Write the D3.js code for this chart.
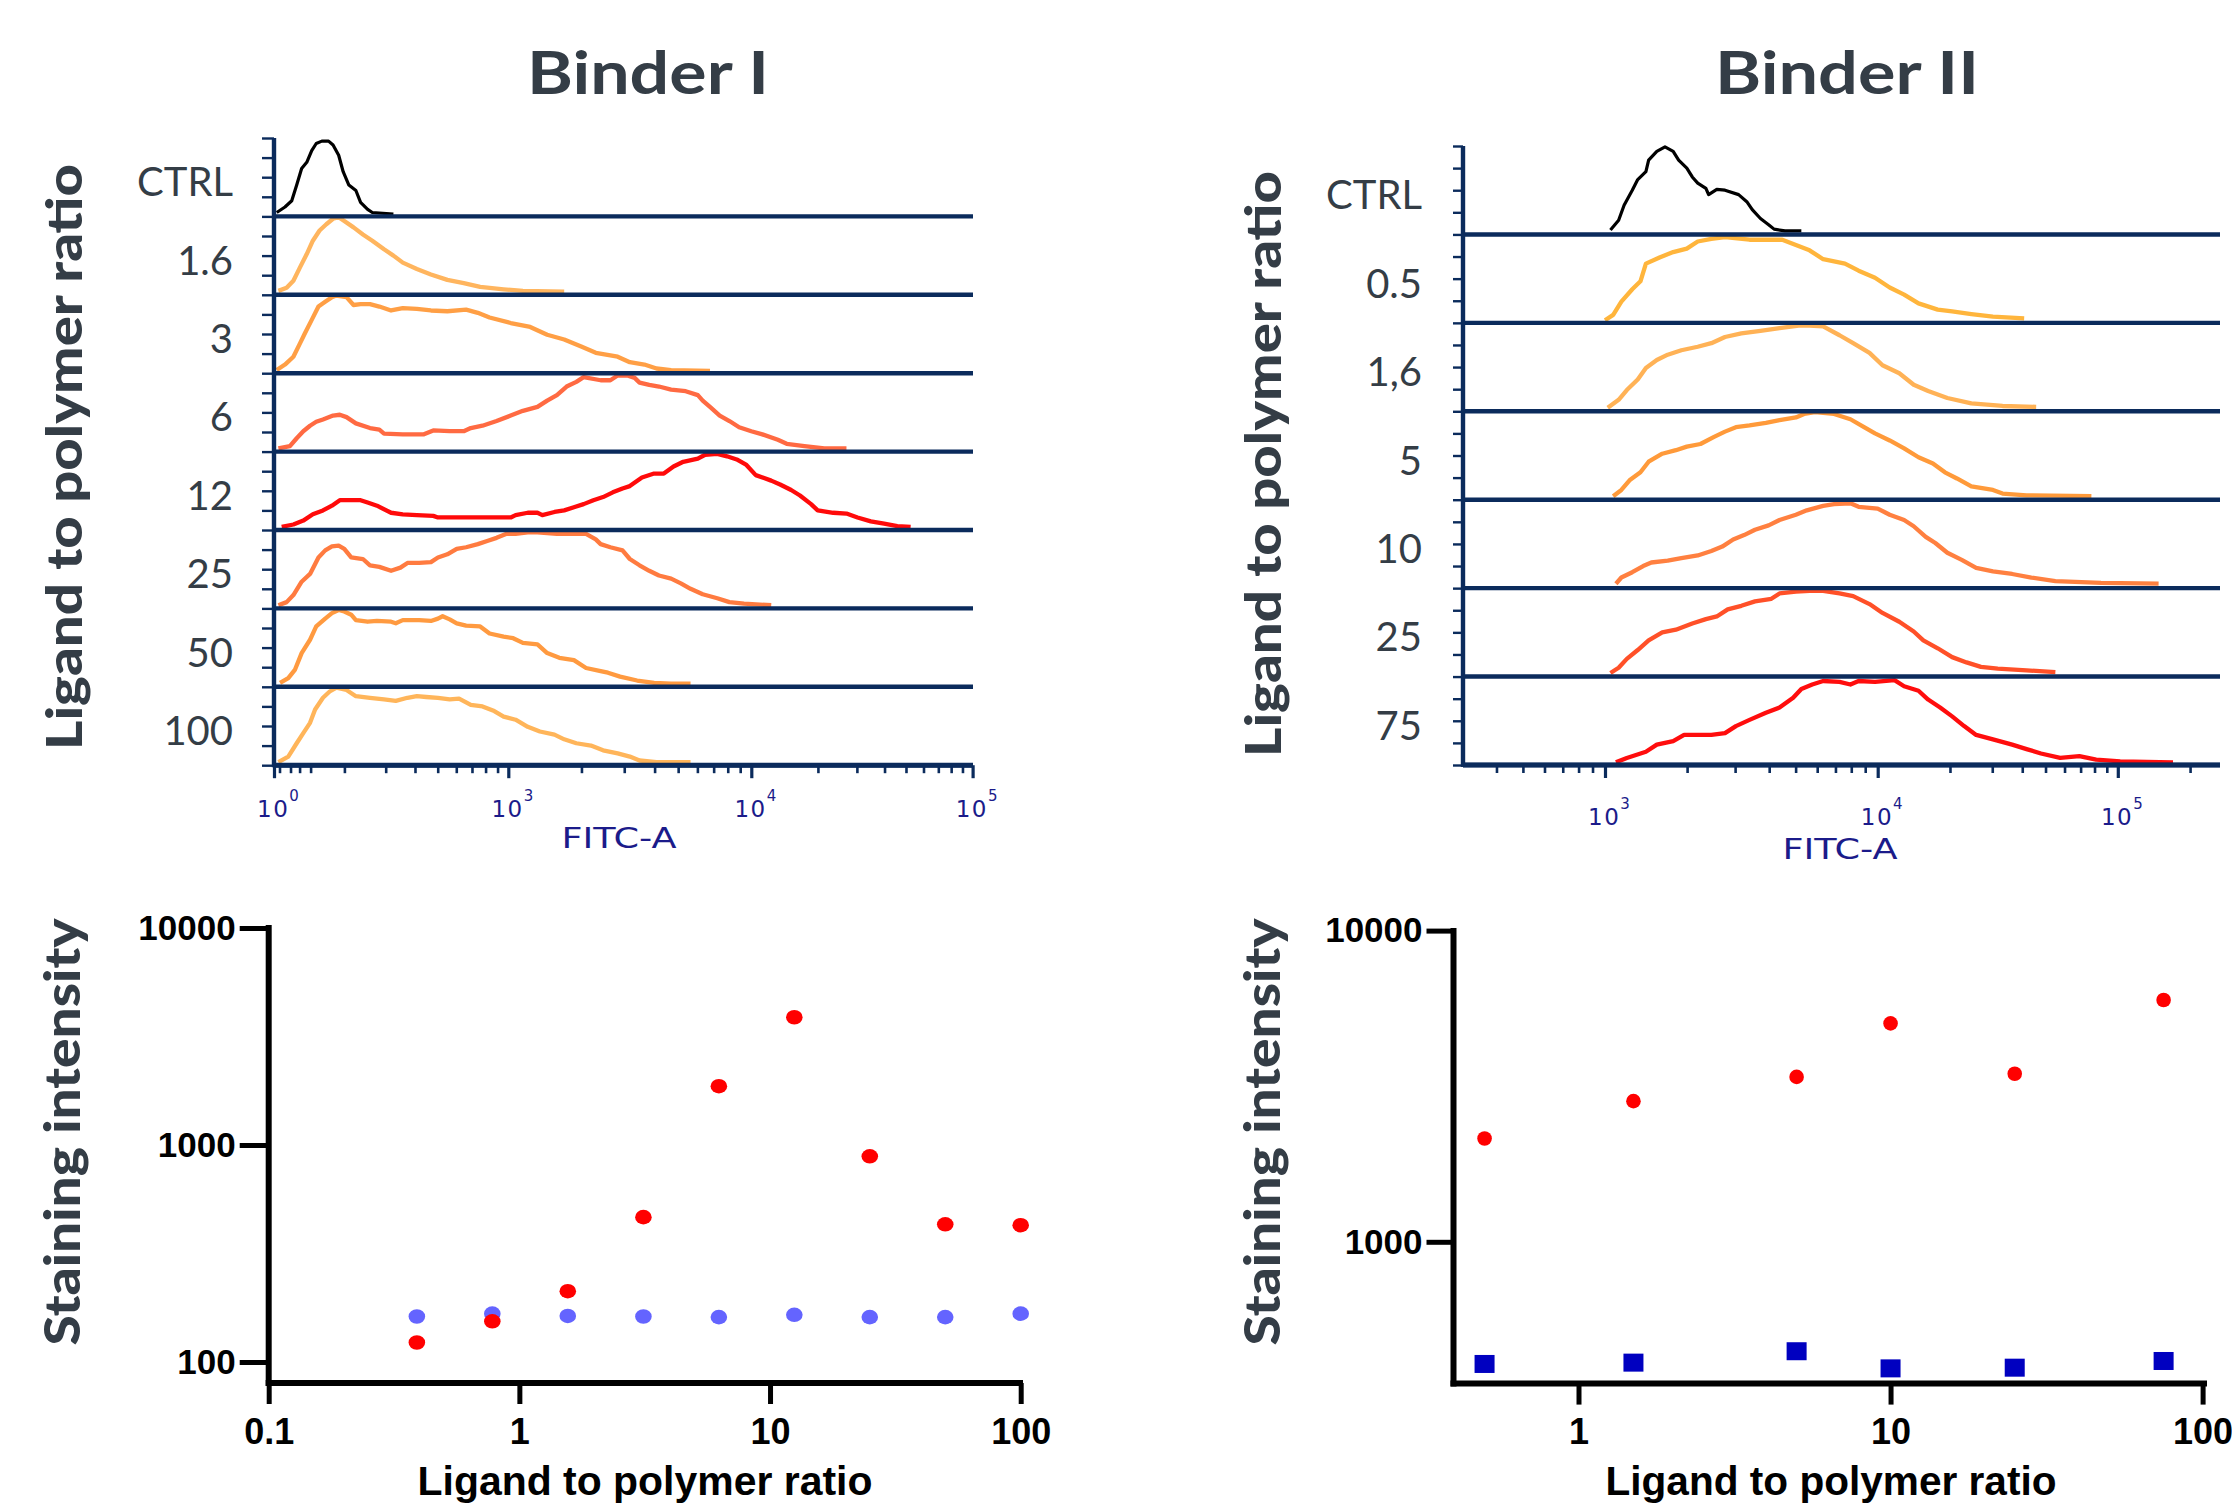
<!DOCTYPE html>
<html>
<head>
<meta charset="utf-8">
<script src="https://cdn.jsdelivr.net/npm/d3@7"></script>
<style>
  body { margin: 0; background: #fff; overflow: hidden; }
  svg { display: block; }
</style>
</head>
<body>
<svg id="fig" width="2232" height="1512"></svg>
<script>
// histogram rows, x = log10(FITC-A), y = % of row height
const b1Labels = ["CTRL", "1.6", "3", "6", "12", "25", "50", "100"]
const b2Labels = ["CTRL", "0.5", "1,6", "5", "10", "25", "75"]

const b1Ctrl = [[0.15,5],[0.60,12],[0.97,20],[1.24,40],[1.51,61],[1.79,69],[2.01,84],[2.05,93],[2.10,96],[2.16,96],[2.20,91],[2.25,78],[2.29,57],[2.32,40],[2.35,33],[2.37,18],[2.40,9],[2.42,5],[2.51,3]]
const b1R16 = [[0.24,5],[0.69,9],[1.06,18],[1.42,35],[1.79,52],[2.02,69],[2.08,82],[2.14,90],[2.20,97],[2.25,99],[2.29,95],[2.34,86],[2.38,77],[2.42,69],[2.47,58],[2.51,50],[2.55,41],[2.61,33],[2.67,26],[2.74,19],[2.81,15],[2.88,10],[2.98,7],[3.06,5],[3.23,4]]
const b1R3 = [[0.15,4],[0.60,11],[1.06,21],[1.42,38],[1.69,51],[2.01,68],[2.07,85],[2.13,91],[2.19,97],[2.23,99],[2.31,97],[2.34,87],[2.37,88],[2.41,88],[2.45,85],[2.50,80],[2.55,83],[2.61,82],[2.67,80],[2.74,79],[2.82,81],[2.87,77],[2.92,71],[3.01,64],[3.09,59],[3.16,49],[3.23,43],[3.30,34],[3.36,26],[3.45,21],[3.50,14],[3.56,11],[3.61,6],[3.67,4],[3.83,3]]
const b1R6 = [[0.24,4],[0.87,7],[1.24,17],[1.60,26],[1.97,33],[2.05,38],[2.11,41],[2.20,46],[2.26,47],[2.31,44],[2.35,36],[2.41,30],[2.45,28],[2.47,23],[2.55,22],[2.64,22],[2.68,27],[2.75,26],[2.81,26],[2.84,30],[2.89,33],[2.95,39],[3.01,46],[3.06,52],[3.12,57],[3.16,65],[3.20,72],[3.24,83],[3.28,89],[3.31,95],[3.38,91],[3.42,91],[3.45,97],[3.49,97],[3.52,94],[3.54,88],[3.58,85],[3.62,83],[3.67,79],[3.73,77],[3.78,72],[3.80,65],[3.83,57],[3.87,46],[3.91,39],[3.95,31],[4.00,26],[4.05,22],[4.12,15],[4.16,10],[4.24,7],[4.33,4],[4.43,4]]
const b1R12 = [[0.42,4],[1.06,7],[1.60,12],[2.02,20],[2.11,25],[2.19,31],[2.26,38],[2.33,38],[2.37,38],[2.40,35],[2.44,31],[2.50,22],[2.55,20],[2.61,19],[2.68,18],[2.70,16],[2.78,16],[2.89,16],[3.01,16],[3.03,19],[3.08,22],[3.12,22],[3.14,19],[3.19,23],[3.23,25],[3.27,29],[3.31,33],[3.35,38],[3.39,42],[3.43,48],[3.47,53],[3.50,56],[3.55,67],[3.60,72],[3.64,72],[3.68,81],[3.72,87],[3.78,91],[3.81,96],[3.86,97],[3.90,94],[3.94,90],[3.98,83],[4.02,70],[4.09,63],[4.13,58],[4.18,51],[4.22,44],[4.27,33],[4.30,25],[4.37,22],[4.43,21],[4.48,16],[4.54,11],[4.60,8],[4.66,5],[4.72,4]]
const b1R25 = [[0.24,4],[0.69,8],[1.06,17],[1.51,34],[1.97,44],[2.07,65],[2.13,74],[2.19,79],[2.25,80],[2.30,76],[2.33,65],[2.38,63],[2.41,55],[2.45,53],[2.50,48],[2.54,52],[2.57,58],[2.62,58],[2.67,59],[2.70,65],[2.74,69],[2.78,76],[2.82,78],[2.87,82],[2.91,86],[2.95,90],[2.99,95],[3.03,95],[3.08,97],[3.12,97],[3.20,95],[3.25,95],[3.32,95],[3.36,88],[3.38,82],[3.42,78],[3.47,74],[3.50,63],[3.54,55],[3.58,48],[3.62,42],[3.67,38],[3.71,32],[3.75,25],[3.80,18],[3.86,13],[3.91,8],[3.97,6],[4.09,4]]
const b1R50 = [[0.33,5],[0.78,11],[1.15,22],[1.51,43],[1.97,60],[2.05,77],[2.13,87],[2.19,94],[2.25,98],[2.30,96],[2.33,92],[2.35,85],[2.40,83],[2.44,84],[2.50,83],[2.52,81],[2.55,85],[2.62,85],[2.67,84],[2.70,87],[2.72,90],[2.75,86],[2.78,81],[2.82,78],[2.88,77],[2.92,68],[2.98,64],[3.02,62],[3.06,56],[3.12,54],[3.16,43],[3.21,37],[3.27,34],[3.32,24],[3.38,20],[3.41,18],[3.46,13],[3.53,8],[3.60,5],[3.67,4],[3.75,4]]
const b1R100 = [[0.24,4],[0.78,11],[1.24,28],[1.60,41],[1.97,54],[2.04,71],[2.11,86],[2.17,94],[2.23,99],[2.31,96],[2.35,88],[2.41,86],[2.47,84],[2.52,82],[2.57,86],[2.61,88],[2.65,87],[2.70,86],[2.75,84],[2.79,85],[2.84,77],[2.89,75],[2.94,69],[2.98,62],[3.03,58],[3.08,49],[3.13,43],[3.19,39],[3.23,33],[3.28,28],[3.34,25],[3.39,19],[3.45,15],[3.50,11],[3.54,6],[3.61,4],[3.75,4]]

const b2Ctrl = [[3.02,5],[3.05,16],[3.07,33],[3.10,50],[3.12,62],[3.15,71],[3.16,84],[3.19,94],[3.22,99],[3.25,94],[3.27,84],[3.30,75],[3.32,65],[3.34,58],[3.37,52],[3.38,45],[3.41,51],[3.44,50],[3.49,45],[3.52,37],[3.54,28],[3.57,18],[3.60,11],[3.62,6],[3.66,4],[3.72,4]]
const b2R05 = [[3.00,3],[3.03,9],[3.06,24],[3.10,38],[3.13,47],[3.15,67],[3.20,74],[3.25,80],[3.30,84],[3.34,92],[3.39,95],[3.44,97],[3.53,94],[3.61,94],[3.65,94],[3.70,88],[3.75,82],[3.80,72],[3.88,67],[3.93,59],[3.99,51],[4.05,40],[4.11,32],[4.17,22],[4.25,15],[4.31,13],[4.39,10],[4.48,7],[4.61,5]]
const b2R16 = [[3.01,4],[3.05,13],[3.08,24],[3.12,36],[3.15,49],[3.19,58],[3.23,64],[3.28,69],[3.34,73],[3.39,77],[3.44,84],[3.50,88],[3.57,91],[3.64,94],[3.71,97],[3.75,97],[3.80,96],[3.86,86],[3.91,77],[3.97,66],[4.02,52],[4.09,43],[4.15,30],[4.21,23],[4.29,15],[4.39,9],[4.52,6],[4.66,5]]
const b2R5 = [[3.03,4],[3.06,11],[3.09,22],[3.13,31],[3.16,43],[3.21,52],[3.26,56],[3.30,60],[3.35,63],[3.40,71],[3.44,77],[3.48,82],[3.53,84],[3.59,87],[3.64,90],[3.70,93],[3.73,97],[3.77,99],[3.84,97],[3.90,91],[3.95,82],[3.99,75],[4.05,67],[4.11,58],[4.17,48],[4.23,41],[4.28,31],[4.33,24],[4.39,15],[4.48,11],[4.52,7],[4.62,5],[4.89,4]]
const b2R10 = [[3.04,5],[3.06,12],[3.10,18],[3.14,25],[3.17,29],[3.23,31],[3.28,34],[3.34,37],[3.39,42],[3.43,47],[3.47,55],[3.51,60],[3.55,66],[3.60,71],[3.64,77],[3.70,83],[3.74,88],[3.80,93],[3.84,95],[3.90,96],[3.93,92],[4.00,90],[4.05,83],[4.11,77],[4.15,70],[4.20,58],[4.24,51],[4.29,40],[4.35,32],[4.41,23],[4.48,19],[4.56,16],[4.64,12],[4.74,8],[4.93,6],[5.17,5]]
const b2R25 = [[3.02,4],[3.05,10],[3.08,20],[3.12,30],[3.16,41],[3.21,50],[3.26,53],[3.32,60],[3.37,65],[3.41,68],[3.45,76],[3.50,80],[3.55,85],[3.61,88],[3.64,94],[3.70,96],[3.75,97],[3.80,97],[3.86,94],[3.91,91],[3.97,82],[4.02,72],[4.09,62],[4.15,51],[4.19,41],[4.25,32],[4.31,22],[4.37,16],[4.43,11],[4.50,9],[4.62,7],[4.74,5]]
const b2R75 = [[3.04,3],[3.08,8],[3.15,15],[3.19,23],[3.25,27],[3.29,34],[3.39,34],[3.44,36],[3.48,44],[3.53,51],[3.59,59],[3.64,65],[3.69,76],[3.72,86],[3.76,91],[3.80,95],[3.86,94],[3.90,91],[3.93,95],[3.99,94],[4.07,96],[4.11,89],[4.17,84],[4.21,74],[4.26,65],[4.31,55],[4.36,44],[4.41,34],[4.48,29],[4.56,23],[4.62,18],[4.68,13],[4.76,8],[4.84,10],[4.91,6],[5.01,4],[5.23,3]]

const b1Curves = [b1Ctrl, b1R16, b1R3, b1R6, b1R12, b1R25, b1R50, b1R100]
const b2Curves = [b2Ctrl, b2R05, b2R16, b2R5, b2R10, b2R25, b2R75]

// axis ticks (decades)
const b1MajorTicks = [0, 3, 4, 5]
const b2MajorTicks = [3, 4, 5]

// scatter plots
const ratiosB1 = [0.39, 0.78, 1.56, 3.125, 6.25, 12.5, 25, 50, 100]
const stainB1Red = [123, 154, 212, 465, 1866, 3879, 887, 431, 427]
const stainB1Blue = [162, 167, 163, 162, 161, 165, 161, 161, 167]
const ratiosB2 = [0.5, 1.5, 5, 10, 25, 75]
const stainB2Red = [2148, 2831, 3388, 5032, 3467, 5984]
const stainB2Blue = [405, 409, 445, 392, 394, 414]

const b1Colors = ["#000000", "#ffb55e", "#ff9f45", "#ff6a42", "#ff0a0a", "#ff7b40", "#ff9a40", "#ffb55a"]
const b2Colors = ["#000000", "#ffb53c", "#ffb256", "#ff9a3a", "#ff8040", "#ff5028", "#ff0d0d"]

const navy = "#0b2b5c"
const slate = "#343d46"
const facsBlue = "#1b1b8a"
const fontGill = "'Gill Sans','Gill Sans MT',Lato,'Open Sans',sans-serif"
const fontHeavy = "'Century Gothic',Lato,sans-serif"
const fontArial = "'Liberation Sans',Arial,sans-serif"
const fontFacs = "'DejaVu Sans',Verdana,sans-serif"

const svg = d3.select("#fig")

function minorDecades(list){
  return list.map(v => Math.log10(v))
}

function histPanel(o){
  const g = svg.append("g")
  const rows = d3.scaleBand().domain(o.labels).range([o.top, o.bottom]).padding(0)
  const bw = rows.bandwidth()
  const x = o.x

  // curves
  o.labels.forEach((lab, i) => {
    const base = rows(lab) + bw
    const y = d3.scaleLinear().domain([0, 100]).range([base, base - bw])
    const line = d3.line().x(d => x(d[0])).y(d => y(d[1]))
    g.append("path")
      .datum(o.curves[i])
      .attr("d", line)
      .attr("fill", "none")
      .attr("stroke", o.colors[i])
      .attr("stroke-width", i == 0 ? 3.2 : 4.3)
      .attr("stroke-linejoin", "round")
  })

  // separators
  g.selectAll(".sep").data(o.labels).enter().append("line")
    .attr("x1", o.left).attr("x2", o.right)
    .attr("y1", d => rows(d) + bw).attr("y2", d => rows(d) + bw)
    .attr("stroke", navy).attr("stroke-width", 4.4)

  // row labels
  g.selectAll(".lab").data(o.labels).enter().append("text")
    .attr("x", o.labelX)
    .attr("y", d => rows(d) + bw / 2 + 19)
    .attr("text-anchor", "end")
    .attr("font-family", fontGill)
    .attr("font-size", 40)
    .attr("fill", slate)
    .text(d => d)

  // left axis
  const yt = d3.scaleLinear().domain([0, o.labels.length * 4]).range([o.top, o.bottom])
  const ya = g.append("g").attr("transform", `translate(${o.left},0)`)
    .call(d3.axisLeft(yt).tickValues(d3.range(0, o.labels.length * 4 + 1)).tickSize(o.tickLen).tickFormat("").tickSizeOuter(0))
  ya.select(".domain").remove()
  ya.selectAll("line").attr("stroke", navy).attr("stroke-width", 2.4)
  g.append("line").attr("x1", o.left).attr("x2", o.left).attr("y1", o.top).attr("y2", o.bottom + 2)
    .attr("stroke", navy).attr("stroke-width", 4.4)

  // bottom axis
  const xa = g.append("g").attr("transform", `translate(0,${o.bottom})`)
    .call(d3.axisBottom(x).tickValues(o.minor).tickSize(8).tickFormat("").tickSizeOuter(0))
  xa.select(".domain").remove()
  xa.selectAll("line").attr("stroke", navy).attr("stroke-width", 2.6)
  const xm = g.append("g").attr("transform", `translate(0,${o.bottom})`)
    .call(d3.axisBottom(x).tickValues(o.major).tickSize(13).tickFormat("").tickSizeOuter(0))
  xm.select(".domain").remove()
  xm.selectAll("line").attr("stroke", navy).attr("stroke-width", 3.2)
  g.append("line").attr("x1", o.left).attr("x2", o.right).attr("y1", o.bottom).attr("y2", o.bottom)
    .attr("stroke", navy).attr("stroke-width", 5)

  // tick labels 10^k
  const tl = g.selectAll(".tl").data(o.major).enter().append("text")
    .attr("x", d => x(d) + 4)
    .attr("y", o.tickLabelY)
    .attr("text-anchor", "middle")
    .attr("font-family", fontFacs)
    .attr("fill", facsBlue)
  tl.append("tspan").attr("font-size", 23).attr("letter-spacing", 1.5).text("10")
  tl.append("tspan").attr("font-size", 15).attr("dy", -16).text(d => d)

  g.append("text")
    .attr("x", o.fitcX).attr("y", o.fitcY)
    .attr("text-anchor", "middle")
    .attr("font-family", fontFacs)
    .attr("font-size", 28)
    .attr("fill", facsBlue)
    .attr("textLength", 115)
    .attr("lengthAdjust", "spacingAndGlyphs")
    .text("FITC-A")
}

const b1Minor = minorDecades([2, 8, 25, 100]).concat(
  d3.merge([2, 3, 4].map(k => d3.range(2, 10).map(m => Math.log10(m * Math.pow(10, k)))))
)
const b2Minor = d3.merge([
  d3.range(4, 10).map(m => Math.log10(m * 100)),
  d3.range(2, 10).map(m => Math.log10(m * 1000)),
  d3.range(2, 10).map(m => Math.log10(m * 10000)),
  [Math.log10(200000)]
])

histPanel({
  labels: b1Labels, curves: b1Curves, colors: b1Colors,
  x: d3.scaleLinear().domain([0, 2, 2.301, 3, 4, 5]).range([274, 310.6, 344.4, 508.3, 751.3, 972.6]),
  top: 138, bottom: 765.2, left: 274, right: 973, labelX: 233, tickLen: 12,
  major: b1MajorTicks, minor: b1Minor, tickLabelY: 817, fitcX: 619, fitcY: 848
})

histPanel({
  labels: b2Labels, curves: b2Curves, colors: b2Colors,
  x: d3.scaleLinear().domain([3, 4, 5]).range([1605, 1877.7, 2117.8]),
  top: 146, bottom: 765, left: 1463, right: 2220, labelX: 1422, tickLen: 10,
  major: b2MajorTicks, minor: b2Minor, tickLabelY: 825, fitcX: 1840, fitcY: 859
})

function scatterPanel(o){
  const g = svg.append("g")
  const x = o.x, y = o.y

  const ya = g.append("g").attr("transform", `translate(${o.axX},0)`)
    .call(d3.axisLeft(y).tickValues(o.yTicks).tickFormat(d3.format("d")).tickSize(o.yTickLen).tickPadding(4).tickSizeOuter(0))
  ya.select(".domain").remove()
  ya.selectAll("line").attr("stroke", "#000").attr("stroke-width", 5)
  ya.selectAll("text").attr("font-family", fontArial).attr("font-weight", 700).attr("font-size", 35).attr("fill", "#000")

  const xa = g.append("g").attr("transform", `translate(0,${o.axY})`)
    .call(d3.axisBottom(x).tickValues(o.xTicks).tickFormat(d => d < 1 ? "0.1" : d3.format("d")(d)).tickSize(21).tickPadding(14).tickSizeOuter(0))
  xa.select(".domain").remove()
  xa.selectAll("line").attr("stroke", "#000").attr("stroke-width", 5)
  xa.selectAll("text").attr("font-family", fontArial).attr("font-weight", 700).attr("font-size", 36).attr("fill", "#000")

  g.append("line").attr("x1", o.axX).attr("x2", o.axX).attr("y1", o.yTop).attr("y2", o.axY + 3)
    .attr("stroke", "#000").attr("stroke-width", 6)
  g.append("line").attr("x1", o.axX - 3).attr("x2", o.xEnd).attr("y1", o.axY).attr("y2", o.axY)
    .attr("stroke", "#000").attr("stroke-width", 6)

  o.draw(g, x, y)

  g.append("text")
    .attr("x", o.titleX).attr("y", 1495)
    .attr("text-anchor", "middle")
    .attr("font-family", fontArial).attr("font-weight", 700).attr("font-size", 40)
    .attr("textLength", o.titleLen).attr("lengthAdjust", "spacingAndGlyphs")
    .text("Ligand to polymer ratio")
}

scatterPanel({
  x: d3.scaleLog().domain([0.1, 100]).range([268.7, 1020.7]),
  y: d3.scaleLog().domain([100, 10000]).range([1362, 928]),
  axX: 268.7, axY: 1383, yTop: 925, xEnd: 1023,
  yTicks: [100, 1000, 10000], xTicks: [0.1, 1, 10, 100], yTickLen: 29,
  titleX: 645, titleLen: 455,
  draw: (g, x, y) => {
    g.selectAll(".blue").data(ratiosB1).enter().append("ellipse")
      .attr("cx", d => x(d)).attr("cy", (d, i) => y(stainB1Blue[i]))
      .attr("rx", 8.3).attr("ry", 7.3).attr("fill", "#6464ff")
    g.selectAll(".red").data(ratiosB1).enter().append("ellipse")
      .attr("cx", d => x(d)).attr("cy", (d, i) => y(stainB1Red[i]))
      .attr("rx", 8.3).attr("ry", 7.3).attr("fill", "#ff0000")
  }
})

scatterPanel({
  x: d3.scaleLog().domain([1, 100]).range([1578.5, 2202.6]),
  y: d3.scaleLog().domain([1000, 10000]).range([1241.8, 930.6]),
  axX: 1453.5, axY: 1383.6, yTop: 928, xEnd: 2207,
  yTicks: [1000, 10000], xTicks: [1, 10, 100], yTickLen: 27,
  titleX: 1831, titleLen: 451,
  draw: (g, x, y) => {
    g.selectAll(".sq").data(ratiosB2).enter().append("rect")
      .attr("x", d => x(d) - 10).attr("y", (d, i) => y(stainB2Blue[i]) - 9)
      .attr("width", 20).attr("height", 18).attr("fill", "#0000c0")
    g.selectAll(".red").data(ratiosB2).enter().append("circle")
      .attr("cx", d => x(d)).attr("cy", (d, i) => y(stainB2Red[i]))
      .attr("r", 7.3).attr("fill", "#ff0000")
  }
})

// titles
function title(txt, x, len){
  svg.append("text")
    .attr("x", x).attr("y", 94)
    .attr("text-anchor", "middle")
    .attr("font-family", fontGill).attr("font-weight", 700).attr("font-size", 60)
    .attr("fill", slate)
    .attr("textLength", len).attr("lengthAdjust", "spacingAndGlyphs")
    .text(txt)
}
title("Binder I", 648, 242)
title("Binder II", 1847, 264)

function vTitle(txt, x, cy, len){
  svg.append("text")
    .attr("transform", `translate(${x},${cy}) rotate(-90)`)
    .attr("text-anchor", "middle")
    .attr("font-family", fontHeavy).attr("font-weight", 900).attr("font-size", 50)
    .attr("fill", slate)
    .attr("textLength", len).attr("lengthAdjust", "spacingAndGlyphs")
    .text(txt)
}
vTitle("Ligand to polymer ratio", 82, 457, 586)
vTitle("Ligand to polymer ratio", 1281, 464, 586)
vTitle("Staining intensity", 80, 1132, 427)
vTitle("Staining intensity", 1280, 1132, 427)
</script>
</body>
</html>
